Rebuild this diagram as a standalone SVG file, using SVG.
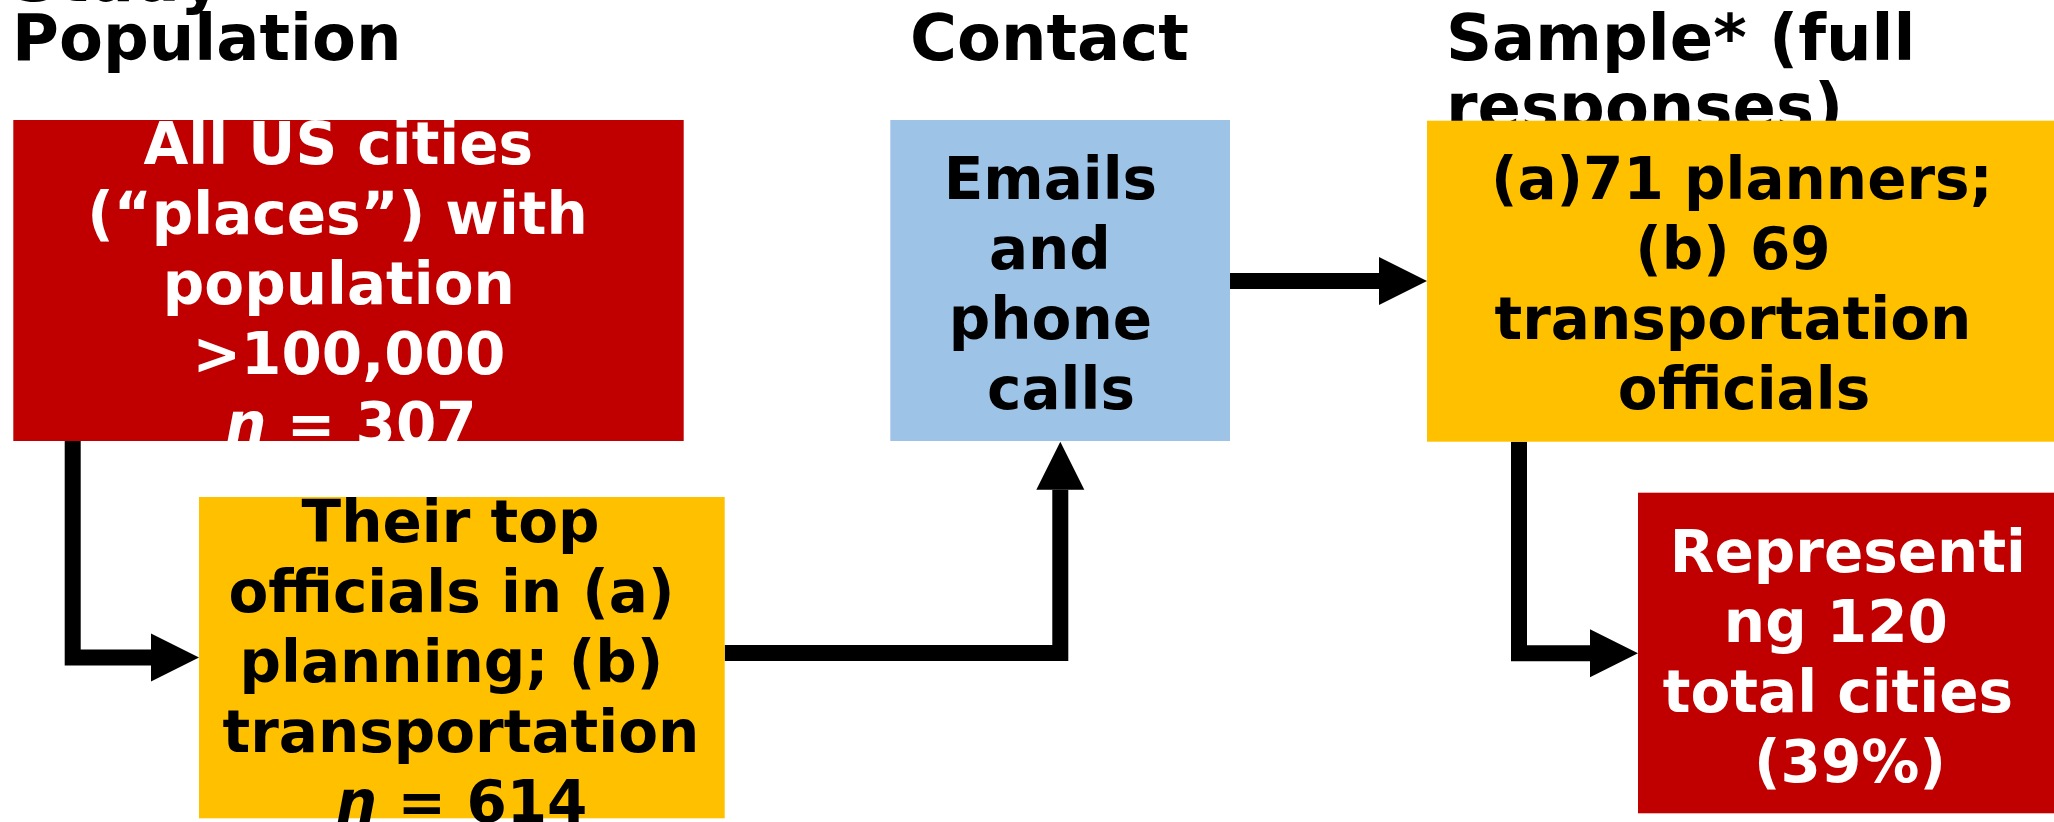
<svg xmlns="http://www.w3.org/2000/svg" width="2054" height="822" viewBox="0 0 2054 822">
  <style>
    text { font-family: "DejaVu Sans", "Noto Sans", sans-serif; font-weight: bold; }
    .title { font-size: 64px; fill: #000; }
    .lbl { font-size: 58px; text-anchor: middle; }
    .dark { fill: #000; }
    .light { fill: #fff; }
    .red { fill: #C00000; }
    .yellow { fill: #FFC000; }
    .blue { fill: #9DC3E6; }
    .conn { fill: none; stroke: #000; stroke-width: 16; stroke-linejoin: miter; stroke-linecap: butt; }
  </style>
  <defs>
    <marker id="head" markerUnits="userSpaceOnUse" markerWidth="48" markerHeight="48" refX="0" refY="24" orient="auto" overflow="visible">
      <path d="M0,0 L48,24 L0,48 Z" fill="#000"/>
    </marker>
  </defs>

  <rect width="2054" height="822" fill="#fff"/>

  <!-- column headings -->
  <g id="headings">
    <text class="title" x="12" y="0.5">Study</text>
    <text class="title" x="12" y="60">Population</text>
    <text class="title" x="910" y="60">Contact</text>
    <text class="title" x="1446" y="60">Sample* (full</text>
    <text class="title" x="1446" y="129">responses)</text>
  </g>

  <!-- connectors -->
  <g id="connectors">
    <path class="conn" d="M72.7,441 V657.5 H151" marker-end="url(#head)"/>
    <path class="conn" d="M724.7,653 H1060.3 V489.7" marker-end="url(#head)"/>
    <path class="conn" d="M1230,281 H1379" marker-end="url(#head)"/>
    <path class="conn" d="M1519,441.7 V653.3 H1590" marker-end="url(#head)"/>
  </g>

  <!-- population frame -->
  <g id="node-cities">
    <rect class="red" x="13.3" y="120" width="670.4" height="321"/>
    <text class="lbl light">
      <tspan x="348.4" y="164">All US cities</tspan>
      <tspan x="347.6" y="234">(“places”) with</tspan>
      <tspan x="348.9" y="304">population</tspan>
      <tspan x="359" y="374">&gt;100,000</tspan>
      <tspan x="351" y="444"><tspan font-style="italic">n</tspan> = 307</tspan>
    </text>
  </g>

  <g id="node-officials">
    <rect class="yellow" x="199" y="497" width="525.7" height="321.3"/>
    <text class="lbl dark">
      <tspan x="460.7" y="541.7">Their top</tspan>
      <tspan x="461.5" y="611.7">officials in (a)</tspan>
      <tspan x="461.5" y="681.7">planning; (b)</tspan>
      <tspan x="471" y="751.7">transportation</tspan>
      <tspan x="461.8" y="821.7"><tspan font-style="italic">n</tspan> = 614</tspan>
    </text>
  </g>

  <!-- contact method -->
  <g id="node-contact">
    <rect class="blue" x="890.3" y="120" width="339.7" height="321"/>
    <text class="lbl dark">
      <tspan x="1060.5" y="199">Emails</tspan>
      <tspan x="1060" y="269">and</tspan>
      <tspan x="1060.5" y="339">phone</tspan>
      <tspan x="1061" y="409">calls</tspan>
    </text>
  </g>

  <!-- responses -->
  <g id="node-sample">
    <rect class="yellow" x="1427" y="120.7" width="640" height="321"/>
    <text class="lbl dark">
      <tspan x="1752" y="199">(a)71 planners;</tspan>
      <tspan x="1743" y="269">(b) 69</tspan>
      <tspan x="1743" y="339">transportation</tspan>
      <tspan x="1744" y="409">officials</tspan>
    </text>
  </g>

  <g id="node-coverage">
    <rect class="red" x="1638" y="492.7" width="430" height="320.6"/>
    <text class="lbl light">
      <tspan x="1858" y="572.3">Representi</tspan>
      <tspan x="1846" y="642.3">ng 120</tspan>
      <tspan x="1848" y="712.3">total cities</tspan>
      <tspan x="1850" y="782.3">(39%)</tspan>
    </text>
  </g>
</svg>
